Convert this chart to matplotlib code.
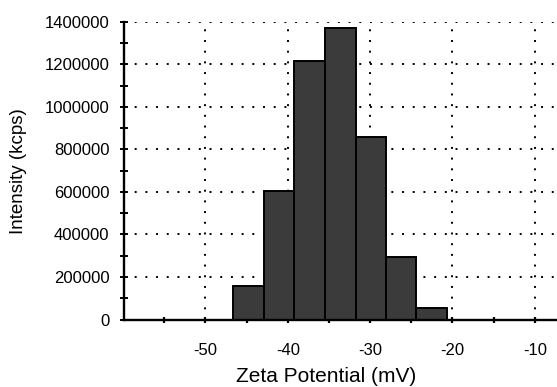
import matplotlib
matplotlib.use('Agg')
import matplotlib.pyplot as plt
import numpy as np
from matplotlib.ticker import MultipleLocator

# bin edges (mV) and counts (kcps)
bin_left = [-46.7, -42.9, -39.3, -35.5, -31.7, -28.1, -24.4]
bin_width = [3.8, 3.6, 3.8, 3.8, 3.6, 3.7, 3.7]
intensity = [160000, 605000, 1215000, 1370000, 857000, 295000, 55000]

x_major = [-50, -40, -30, -20, -10]
y_major = [0, 200000, 400000, 600000, 800000, 1000000, 1200000, 1400000]

plt.rcParams['font.family'] = ['Liberation Sans', 'DejaVu Sans']
plt.rcParams['axes.unicode_minus'] = False

fig = plt.figure(figsize=(5.57, 3.87), dpi=100)
ax = fig.add_axes([0.2226, 0.1744, 0.7774, 0.7688])

ax.bar(bin_left, intensity, width=bin_width, align='edge',
       color='#3b3b3b', edgecolor='black', linewidth=1.4, zorder=3)

ax.set_xlim(-59.9, -7.3)
ax.set_ylim(0, 1400000)

ax.set_xticks(x_major)
ax.set_yticks(y_major)
ax.xaxis.set_minor_locator(MultipleLocator(5))
ax.yaxis.set_minor_locator(MultipleLocator(100000))
ax.set_yticklabels([str(v) for v in y_major])
ax.set_xticklabels([str(v) for v in x_major])

ax.grid(True, which='major', linestyle=(0, (1, 4.5)), color='black', linewidth=1.4, zorder=1)

for s in ['top', 'right']:
    ax.spines[s].set_visible(False)
for s in ['left', 'bottom']:
    ax.spines[s].set_linewidth(1.7)
    ax.spines[s].set_zorder(4)

ax.tick_params(axis='y', which='both', direction='inout', length=6, width=1.4)
ax.tick_params(axis='x', which='both', direction='inout', length=5, width=1.6)
ax.tick_params(which='major', labelsize=12, colors='black')
ax.tick_params(axis='y', which='major', pad=7.5)
ax.tick_params(axis='x', which='major', pad=14.5)

ax.set_xlabel('Zeta Potential (mV)', fontsize=15)
ax.set_ylabel('Intensity (kcps)', fontsize=13.5)
ax.xaxis.set_label_coords((326 - 124) / (557 - 124), -0.16)
ax.yaxis.set_label_coords(-0.224, 0.5)

fig.savefig('out.png', dpi=100)
